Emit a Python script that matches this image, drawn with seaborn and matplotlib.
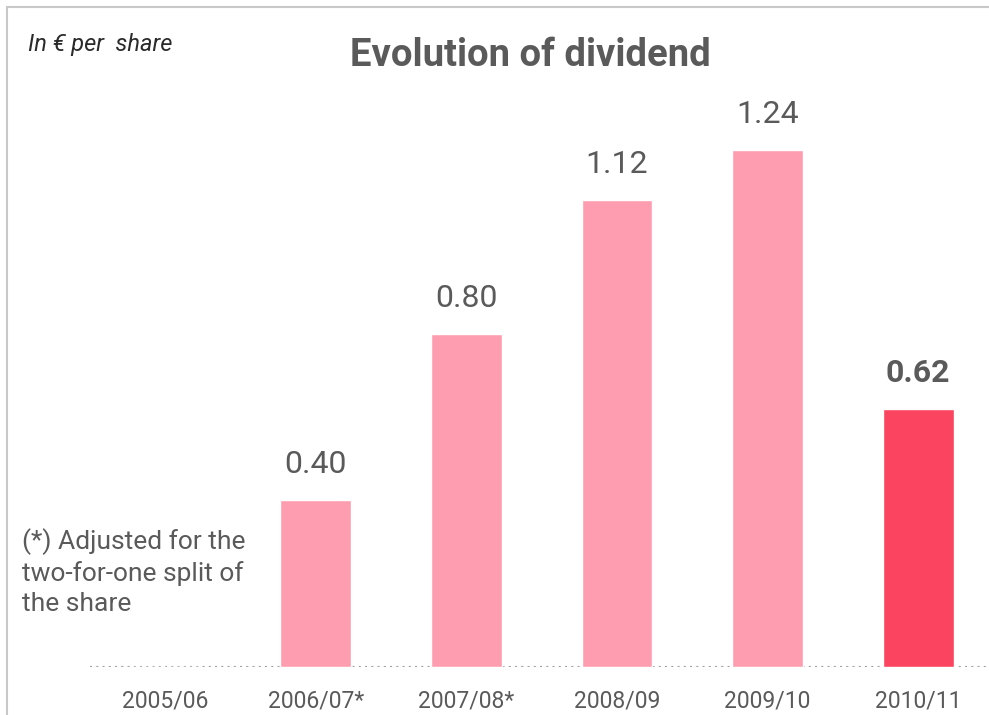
import matplotlib
matplotlib.use('Agg')
import matplotlib.pyplot as plt
import seaborn as sns
import pandas as pd
from matplotlib.lines import Line2D

years = ['2005/06', '2006/07*', '2007/08*', '2008/09', '2009/10', '2010/11']
dividend = [None, 0.40, 0.80, 1.12, 1.24, 0.62]
labels = ['', '0.40', '0.80', '1.12', '1.24', '0.62']

PINK = '#ff9db0'
RED = '#fb4560'
GREY = '#5a5a5a'

sns.set_style('white')
plt.rcParams['font.family'] = ['Roboto', 'DejaVu Sans']

df = pd.DataFrame(dict(year=years, dividend=[v if v is not None else 0 for v in dividend]))
df['kind'] = ['old'] * (len(years) - 1) + ['last']

fig = plt.figure(figsize=(9.89, 7.15), dpi=100)
ax = fig.add_axes([90 / 989, 48 / 715, 1 - 90 / 989, 1 - 48 / 715])

sns.barplot(data=df, x='year', y='dividend', hue='kind', palette={'old': PINK, 'last': RED},
            width=0.47, legend=False, ax=ax, saturation=1)

ax.set_xlim(-0.5, 5.47)
ax.set_ylim(0, 1.6)
for s in ax.spines.values():
  s.set_visible(False)
ax.set_yticks([])
ax.set_xlabel('')
ax.set_ylabel('')
ax.tick_params(axis='x', length=0, pad=16, labelsize=16.5, labelcolor=GREY)
ax.axhline(0, color='#a0a0a0', lw=1.5, ls=(0, (1, 2)), zorder=0)

for i, (v, t) in enumerate(zip(dividend, labels)):
  if v is None:
    continue
  ax.text(i, v + 0.05, t, ha='center', va='bottom', fontsize=23, color=GREY,
          fontweight='bold' if i == len(years) - 1 else 'normal')

fig.text(530 / 989, 1 - 56 / 715, 'Evolution of dividend', ha='center', va='center',
         fontsize=27.5, fontweight='bold', color=GREY)
fig.text(28 / 989, 1 - 45 / 715, 'In € per  share', ha='left', va='center',
         fontsize=17, style='italic', color='#2a2a2a')
fig.text(22 / 989, 1 - 572 / 715, '(*) Adjusted for the\ntwo-for-one split of\nthe share',
         ha='left', va='center', fontsize=19, color=GREY, linespacing=1.3)

# frame lines on top and left
fig.add_artist(Line2D([7 / 989, 1], [1 - 7 / 715, 1 - 7 / 715], transform=fig.transFigure,
                      color='#c8c8c8', lw=1.5))
fig.add_artist(Line2D([7 / 989, 7 / 989], [0, 1 - 7 / 715], transform=fig.transFigure,
                      color='#c8c8c8', lw=1.5))

fig.savefig('out.png', dpi=100)
